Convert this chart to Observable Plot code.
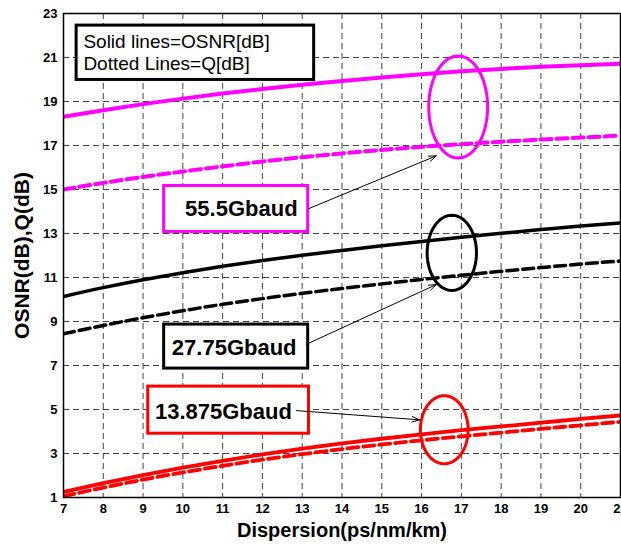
<!DOCTYPE html>
<html>
<head>
<meta charset="utf-8">
<script src="https://cdn.jsdelivr.net/npm/d3@7"></script>
<script src="https://cdn.jsdelivr.net/npm/@observablehq/plot@0.6"></script>
<style>
  html, body { margin: 0; padding: 0; background: white; }
  #chart { width: 621px; height: 544px; overflow: hidden; }
</style>
</head>
<body>
<div id="chart"></div>
<script>
// ---- data ----
const dispersion = [7, 8, 9, 10, 11, 12, 13, 14, 15, 16, 17, 18, 19, 20, 21];
const yTicks = [1, 3, 5, 7, 9, 11, 13, 15, 17, 19, 21, 23];
const osnr55 = [18.31, 18.6, 18.88, 19.13, 19.36, 19.57, 19.76, 19.93, 20.09, 20.24, 20.37, 20.48, 20.58, 20.65, 20.72];
const q55    = [15.0, 15.3, 15.57, 15.82, 16.05, 16.27, 16.47, 16.64, 16.8, 16.94, 17.06, 17.17, 17.27, 17.36, 17.45];
const osnr27 = [10.14, 10.54, 10.9, 11.22, 11.51, 11.77, 12.01, 12.23, 12.44, 12.64, 12.83, 13.01, 13.18, 13.34, 13.48];
const q27    = [8.44, 8.82, 9.17, 9.49, 9.78, 10.04, 10.28, 10.5, 10.71, 10.91, 11.1, 11.28, 11.45, 11.61, 11.75];
const osnr13 = [1.25, 1.65, 2.02, 2.36, 2.67, 2.96, 3.22, 3.46, 3.67, 3.87, 4.06, 4.23, 4.4, 4.57, 4.73];
const q13    = [1.06, 1.45, 1.81, 2.14, 2.44, 2.72, 2.97, 3.2, 3.41, 3.6, 3.78, 3.95, 4.12, 4.28, 4.44];
const baudLabels = ["55.5Gbaud", "27.75Gbaud", "13.875Gbaud"];
const legendLines = ["Solid lines=OSNR[dB]", "Dotted Lines=Q[dB]"];
const xTitle = "Dispersion(ps/nm/km)";
const yTitle = "OSNR(dB),Q(dB)";

// ---- table built from the arrays ----
const series = [
  {values: osnr55, color: "#FF00FF", dash: null, width: 4},
  {values: q55, color: "#FF00FF", dash: "11,5", width: 4},
  {values: osnr27, color: "#000000", dash: null, width: 3.5},
  {values: q27, color: "#000000", dash: "11,5", width: 3.5},
  {values: osnr13, color: "#FF0000", dash: null, width: 3.8},
  {values: q13, color: "#FF0000", dash: "11,5", width: 3.8}
];

// ---- annotation layout (data coordinates) ----
const ellipses = [
  {cx: 16.92, cy: 18.75, rx: 0.74, ry: 2.32, color: "#FF00FF"},
  {cx: 16.76, cy: 12.12, rx: 0.62, ry: 1.71, color: "#000000"},
  {cx: 16.57, cy: 4.08, rx: 0.60, ry: 1.55, color: "#FF0000"}
];
const boxes = [
  {x1: 7.33, x2: 13.3, y1: 19.98, y2: 22.45, color: "#000000"},
  {x1: 9.53, x2: 13.15, y1: 13.07, y2: 15.16, color: "#FF00FF"},
  {x1: 9.53, x2: 13.15, y1: 6.86, y2: 8.86, color: "#000000"},
  {x1: 9.13, x2: 13.17, y1: 3.9, y2: 6.04, color: "#FF0000"}
];
const baudPos = [{x: 11.47, y: 14.12}, {x: 11.29, y: 7.8}, {x: 11.02, y: 4.88}];
const legendPos = [{x: 7.5, y: 21.72}, {x: 7.5, y: 20.72}];
const arrows = [
  {x1: 13.15, y1: 14.12, x2: 16.37, y2: 16.53},
  {x1: 13.1, y1: 7.96, x2: 16.37, y2: 10.68},
  {x1: 12.85, y1: 4.95, x2: 15.95, y2: 4.53}
];

const lineMarks = series.map(s =>
  Plot.line(dispersion.map((d, i) => ({x: d, y: s.values[i]})), {
    x: "x", y: "y", stroke: s.color, strokeWidth: s.width,
    strokeDasharray: s.dash, curve: "monotone-x", clip: true
  })
);

const ellipseMarks = ellipses.map(e => {
  const pts = d3.range(0, 73).map(k => {
    const t = (k / 72) * 2 * Math.PI;
    return {x: e.cx + e.rx * Math.cos(t), y: e.cy + e.ry * Math.sin(t)};
  });
  return Plot.line(pts, {x: "x", y: "y", stroke: e.color, strokeWidth: 3, curve: "linear"});
});

const font = "Arial, 'Liberation Sans', sans-serif";

const chart = Plot.plot({
  width: 621,
  height: 544,
  marginLeft: 63,
  marginRight: 1,
  marginTop: 13,
  marginBottom: 47,
  style: {fontFamily: font, background: "white", color: "black", overflow: "visible"},
  x: {domain: [7, 21], axis: null},
  y: {domain: [1, 23], axis: null},
  marks: [
    Plot.gridX(dispersion, {stroke: "#444", strokeOpacity: 1, strokeWidth: 1, strokeDasharray: "6,4"}),
    Plot.gridY(yTicks, {stroke: "#444", strokeOpacity: 1, strokeWidth: 1, strokeDasharray: "6,4"}),
    Plot.axisX(dispersion, {anchor: "bottom", tickSize: 0, tickPadding: 6, fontSize: 13, fontWeight: "bold", label: null, tickFormat: d => String(d)}),
    Plot.axisY(yTicks, {anchor: "left", tickSize: 0, tickPadding: 6, fontSize: 13, fontWeight: "bold", label: null, tickFormat: d => String(d)}),
    ...lineMarks,
    ...ellipseMarks,
    Plot.rect(boxes, {x1: "x1", x2: "x2", y1: "y1", y2: "y2", fill: "white", stroke: "color", strokeWidth: 3}),
    Plot.text(baudLabels.map((t, i) => ({t, ...baudPos[i]})), {x: "x", y: "y", text: "t", fontSize: 22, fontWeight: "bold", fill: "black"}),
    Plot.text(legendLines.map((t, i) => ({t, ...legendPos[i]})), {x: "x", y: "y", text: "t", fontSize: 19, textAnchor: "start", fill: "black"}),
    Plot.arrow(arrows, {x1: "x1", y1: "y1", x2: "x2", y2: "y2", stroke: "black", strokeWidth: 1, headLength: 12, headAngle: 40}),
    Plot.frame({stroke: "black", strokeWidth: 1.5}),
    Plot.text([{t: xTitle, x: 14, y: -0.5}], {x: "x", y: "y", text: "t", fontSize: 20, fontWeight: "bold", fill: "black"}),
    Plot.text([{t: yTitle, x: 5.97, y: 12}], {x: "x", y: "y", text: "t", rotate: -90, fontSize: 21, fontWeight: "bold", fill: "black"})
  ]
});
document.getElementById("chart").appendChild(chart);
</script>
</body>
</html>
